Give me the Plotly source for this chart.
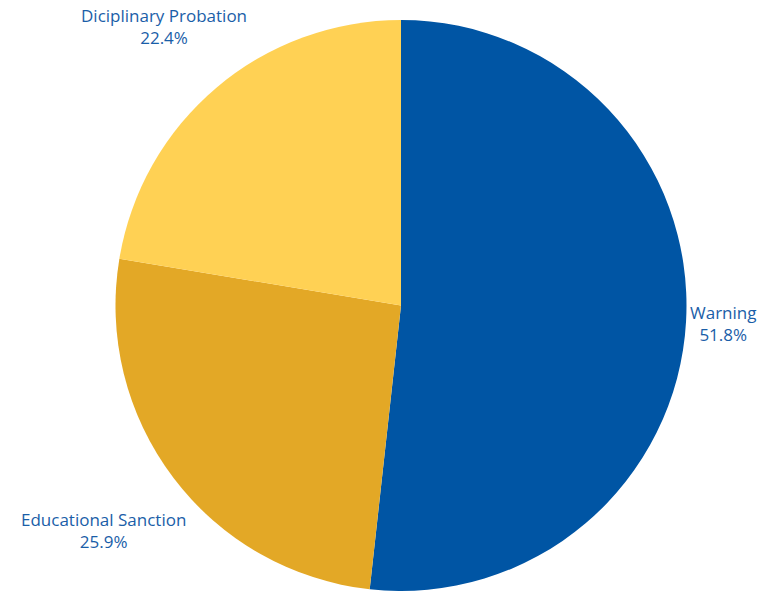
import math
import plotly.graph_objects as go

labels = ['Warning', 'Educational Sanction', 'Diciplinary Probation']
shares = [51.8, 25.9, 22.4]
colors = ['#0055A4', '#E3A826', '#FFD154']

W, H = 765, 591
cx, cy, R = 401, 305.5, 285.5
font_size = 17
text_color = '#1A5EA8'

fig = go.Figure(
    go.Pie(
        labels=labels,
        values=shares,
        sort=False,
        direction='clockwise',
        rotation=0,
        marker=dict(colors=colors, line=dict(width=0)),
        textinfo='none',
        hoverinfo='label+value',
        showlegend=False,
        domain=dict(x=[(cx - R) / W, (cx + R) / W], y=[1 - (cy + R) / H, 1 - (cy - R) / H]),
    )
)

# outside labels, pushed out along each slice's mid angle
total = sum(shares)
start = 0
for lab, val in zip(labels, shares):
    mid = (start + val / 2) / total * 2 * math.pi
    start += val
    s, c = math.sin(mid), math.cos(mid)
    w = max(len(lab), 5) * 0.5 * font_size
    h = 2 * 1.3 * font_size
    r = R + 6 + abs(s) * w / 2 + abs(c) * h / 2
    px, py = cx + r * s, cy - r * c
    fig.add_annotation(
        x=px / W, y=1 - py / H, xref='paper', yref='paper',
        text=f'{lab}<br>{val:.1f}%', showarrow=False,
        xanchor='center', yanchor='middle', align='center',
        font=dict(family='Open Sans, sans-serif', size=font_size, color=text_color),
    )

fig.update_layout(
    width=W,
    height=H,
    margin=dict(l=0, r=0, t=0, b=0),
    paper_bgcolor='white',
)

# drop the default page margin so the figure sits at the window's corner
fig.write_html("out.html", config={'displayModeBar': False},
               post_script="document.body.style.margin='0';")
